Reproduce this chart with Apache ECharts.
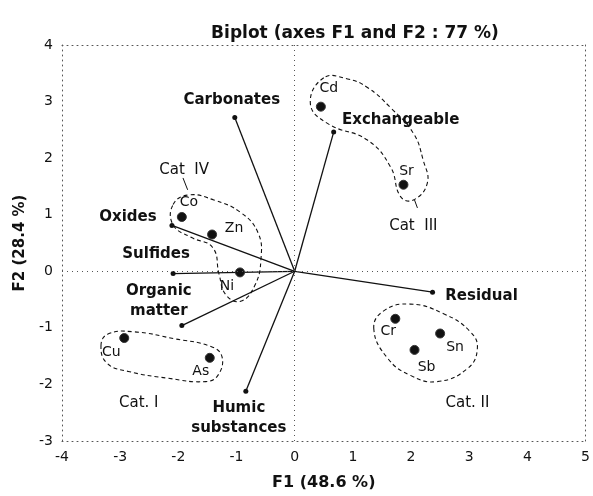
<!DOCTYPE html>
<html>
<head>
<meta charset="utf-8">
<script src="https://cdn.jsdelivr.net/npm/echarts@6/dist/echarts.min.js"></script>
<style>html,body{margin:0;padding:0;background:#fff}#c{width:593px;height:496px}</style>
</head>
<body>
<div id="c"></div>
<script>
// ---- data ----
const pointNames = ['Cd','Sr','Co','Zn','Ni','Cu','As','Cr','Sn','Sb'];
const pointF1 = [0.45, 1.87, -1.94, -1.42, -0.94, -2.93, -1.46, 1.73, 2.50, 2.06];
const pointF2 = [2.91, 1.53, 0.96, 0.65, -0.02, -1.18, -1.53, -0.84, -1.10, -1.39];

const vectorNames = ['Carbonates','Exchangeable','Oxides','Sulfides','Organic\nmatter','Humic\nsubstances','Residual'];
const vectorF1 = [-1.03, 0.67, -2.11, -2.09, -1.94, -0.84, 2.37];
const vectorF2 = [2.72, 2.46, 0.81, -0.04, -0.96, -2.12, -0.37];

const catNames = ['Cat. I', 'Cat. II', 'Cat  III', 'Cat  IV'];
const catF1 = [-2.68, 2.97, 2.04, -1.90];
const catF2 = [-2.33, -2.33, 0.79, 1.79];

const hullCatI = [[-3.33,-1.32],[-3.21,-1.11],[-2.76,-1.07],[-2.08,-1.19],[-1.44,-1.33],[-1.25,-1.51],[-1.32,-1.84],[-1.53,-1.95],[-2.18,-1.89],[-2.86,-1.77],[-3.22,-1.63]];
const hullCatII = [[1.36,-1.02],[1.53,-0.70],[1.99,-0.58],[2.56,-0.75],[3.02,-1.07],[3.14,-1.37],[2.97,-1.72],[2.45,-1.95],[1.99,-1.84],[1.60,-1.54]];
const hullCatIII = [[0.50,3.42],[0.27,2.96],[0.57,2.61],[1.25,2.32],[1.65,1.84],[1.82,1.32],[2.04,1.26],[2.28,1.56],[2.21,1.96],[2.04,2.44],[1.65,2.89],[1.25,3.25],[0.91,3.40]];
const hullCatIV = [[-2.09,1.18],[-1.82,1.35],[-1.39,1.26],[-0.93,1.04],[-0.63,0.68],[-0.58,0.21],[-0.69,-0.26],[-0.93,-0.53],[-1.18,-0.42],[-1.30,-0.05],[-1.41,0.42],[-1.78,0.60],[-2.09,0.82]];
const leaderCatIII = [[2.06,1.26],[2.11,1.12]];
const leaderCatIV = [[-1.92,1.65],[-1.84,1.44]];

// ---- styles (label offsets in px) ----
const pointLabelOffset = {Cd:[8,-18],Sr:[3,-13],Co:[7,-15],Zn:[22,-6],Ni:[-13,14],Cu:[-13,14],As:[-9,14],Cr:[-7,13],Sn:[15,14],Sb:[12,17]};
const vectorLabelOffset = [[-3,-17],[67,-12],[-44,-8],[-17,-19],[-23,-24],[-7,27],[49,4]];

const FONT = 'DejaVu Sans';
const INK = '#111';
const dotted = {color:'#555', width:1, type:[1,4]};

const series = [];

// hulls
[hullCatI, hullCatII, hullCatIII, hullCatIV].forEach(h => {
  series.push({
    type:'custom', silent:true, z:1,
    data:[0],
    renderItem:function(params, api){
      const pts = h.map(p => api.coord(p));
      return {type:'polygon', shape:{points:pts, smooth:0.45},
        style:{fill:'none', stroke:INK, lineWidth:1.1, lineDash:[4,3]}};
    }
  });
});

// leaders
[leaderCatIII, leaderCatIV].forEach(l => {
  series.push({type:'line', data:l, symbol:'none', silent:true,
    lineStyle:{color:INK, width:1}, z:2});
});

// vectors
vectorNames.forEach((n,i) => {
  series.push({
    type:'line', z:3, silent:true,
    data:[{value:[0,0], symbol:'none'},
      {value:[vectorF1[i], vectorF2[i]], symbol:'circle', symbolSize:5,
       label:{show:true, position:'inside', offset:vectorLabelOffset[i], formatter:n,
         fontFamily:FONT, fontWeight:'bold', fontSize:15, color:INK, lineHeight:20, align:'center'}}],
    lineStyle:{color:INK, width:1.3},
    itemStyle:{color:INK},
    markLine: i === 0 ? {silent:true, symbol:'none', label:{show:false},
      lineStyle:dotted, data:[{xAxis:0},{yAxis:0}]} : undefined
  });
});

// points
series.push({
  type:'scatter', z:4, silent:true,
  data: pointNames.map((n,i) => ({name:n, value:[pointF1[i], pointF2[i]],
    label:{offset:pointLabelOffset[n]}})),
  symbolSize:9,
  itemStyle:{color:'#111', borderColor:'#333', borderWidth:1, opacity:1},
  label:{show:true, position:'inside', formatter:'{b}', fontFamily:FONT, fontSize:14, color:INK, opacity:1}
});

// category labels
series.push({
  type:'scatter', z:4, symbolSize:0, silent:true,
  data: catNames.map((n,i) => ({name:n, value:[catF1[i], catF2[i]]})),
  itemStyle:{opacity:1},
  label:{show:true, position:'inside', formatter:'{b}', fontFamily:FONT, fontSize:15, color:INK, opacity:1}
});

const chart = echarts.init(document.getElementById('c'), null, {renderer:'canvas'});
chart.setOption({
  animation:false,
  backgroundColor:'#fff',
  title:{text:'Biplot (axes F1 and F2 : 77 %)', left:350, top:20, textAlign:'center',
    textStyle:{fontFamily:FONT, fontWeight:'bold', fontSize:17, color:INK}},
  grid:{left:62, right:6, top:45, bottom:53},
  xAxis:[
    {type:'value', min:-4, max:5, interval:1, position:'bottom',
     name:'F1 (48.6 %)', nameLocation:'middle', nameGap:34,
     nameTextStyle:{fontFamily:FONT, fontWeight:'bold', fontSize:16, color:INK},
     axisLine:{show:true, onZero:false, lineStyle:dotted}, axisTick:{show:false},
     splitLine:{show:false},
     axisLabel:{fontFamily:FONT, fontSize:14, color:INK, margin:9}},
    {type:'value', min:-4, max:5, interval:1, position:'top',
     axisLine:{show:true, onZero:false, lineStyle:dotted}, axisTick:{show:false},
     splitLine:{show:false}, axisLabel:{show:false}}
  ],
  yAxis:[
    {type:'value', min:-3, max:4, interval:1, position:'left',
     name:'F2 (28.4 %)', nameLocation:'middle', nameGap:34, nameRotate:90,
     nameTextStyle:{fontFamily:FONT, fontWeight:'bold', fontSize:15, color:INK},
     axisLine:{show:true, onZero:false, lineStyle:dotted}, axisTick:{show:false},
     splitLine:{show:false},
     axisLabel:{fontFamily:FONT, fontSize:14, color:INK, margin:9}},
    {type:'value', min:-3, max:4, interval:1, position:'right',
     axisLine:{show:true, onZero:false, lineStyle:dotted}, axisTick:{show:false},
     splitLine:{show:false}, axisLabel:{show:false}}
  ],
  series: series
});
</script>
</body>
</html>
